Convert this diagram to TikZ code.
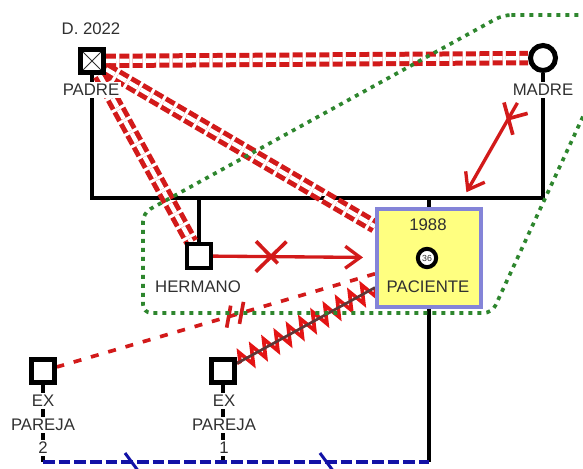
\documentclass[tikz,border=0pt]{standalone}
\usepackage{fontspec}
\setmainfont{Liberation Sans}
\usepackage{xcolor}
\usepackage{tikz}
\usetikzlibrary{arrows.meta,positioning,shapes.misc,decorations.pathmorphing,decorations.markings}

\definecolor{conflicto}{HTML}{D21A1A}
\definecolor{hostilrojo}{HTML}{E41414}
\definecolor{hostilcentro}{HTML}{5E3636}
\definecolor{foco}{HTML}{2E862E}
\definecolor{azulunion}{HTML}{1212A6}
\definecolor{pacfondo}{HTML}{FFFF80}
\definecolor{pacborde}{HTML}{8484D8}
\definecolor{gristxt}{HTML}{303030}

\pgfdeclarelayer{bg}
\pgfsetlayers{bg,main}

\tikzset{
  varon/.style={draw, fill=white, line width=1.4mm, minimum size=7mm, inner sep=0pt},
  mujer/.style={circle, draw, fill=white, line width=1.5mm, minimum size=7.5mm, inner sep=0pt},
  paciente/.style={draw=pacborde, fill=pacfondo, line width=1.2mm, minimum width=31.2mm, minimum height=29.4mm, inner sep=0pt},
  edad/.style={circle, draw, fill=white, line width=1.2mm, minimum size=5.5mm, inner sep=0pt, text=gristxt, font=\fontsize{7.5}{8}\selectfont},
  lbl/.style={fill=white, inner sep=1.5pt, text=gristxt, font=\fontsize{14.3}{16}\selectfont},
  familia/.style={line width=1.2mm},
  lazo/.style={draw=azulunion, line width=1.3mm, dash pattern=on 3.5mm off 1.2mm},
  distante/.style={draw=conflicto, line width=1.5mm, double=white, double distance=1.3mm, dash pattern=on 3mm off 1mm},
  corte/.style={draw=conflicto, line width=1mm, -{Straight Barb[length=4.5mm,width=6.6mm]}},
  cruz/.style={cross out, draw=conflicto, line width=1.1mm, minimum size=6mm, inner sep=0pt, sloped},
  separado/.style={draw=conflicto, line width=1.1mm, dash pattern=on 2.4mm off 3mm},
  hostil/.style={draw=hostilrojo, line width=1.1mm, decorate, decoration={zigzag, segment length=4.2mm, amplitude=2.6mm}},
  hostilc/.style={draw=hostilcentro, line width=0.8mm},
  focoline/.style={draw=foco, line width=1.1mm, dash pattern=on 1.2mm off 1.5mm, rounded corners=2.5mm}
}

\begin{document}
\begin{tikzpicture}[x=0.3mm, y=-0.3mm]
  \useasboundingbox (0,0) rectangle (583,469);

  % padres
  \node[lbl, fill=none] (fecha) at (91,29) {D. 2022};
  \node[varon, path picture={\draw[line width=0.3mm, gristxt]
      (path picture bounding box.north west) -- (path picture bounding box.south east)
      (path picture bounding box.north east) -- (path picture bounding box.south west);}] (padre) at (92,61) {};
  \node[lbl] (lpadre) at (91,90) {PADRE};
  \node[mujer] (madre) at (543,58) {};
  \node[lbl] (lmadre) at (543,90) {MADRE};

  % hijos
  \node[varon, line width=1.2mm] (herm) at (199,256) {};
  \node[lbl] (lherm) at (198,287) {HERMANO};
  \node[paciente] (pac) at (429,258) {};
  \node[lbl, fill=none] (anio) at (428,225) {1988};
  \node[edad] (edad) at (427,258) {36};
  \node[lbl, fill=none] (lpac) at (428,287) {PACIENTE};

  % ex parejas
  \node[varon] (exdos) at (43,371) {};
  \node[lbl] (exdosa) at (43,401) {EX};
  \node[lbl] (exdosb) at (43,425) {PAREJA};
  \node[lbl] (exdosc) at (43,448) {2};
  \node[varon] (exuno) at (223,371) {};
  \node[lbl] (exunoa) at (224,401) {EX};
  \node[lbl] (exunob) at (224,425) {PAREJA};
  \node[lbl] (exunoc) at (224,448) {1};

  \begin{pgfonlayer}{bg}
    \coordinate (sib) at (0,198);
    \coordinate (uni) at (0,462);
    \draw[familia] (padre) -- (padre |- sib) -- (madre |- sib) -- (madre);
    \draw[familia] (herm) -- (herm |- sib);
    \draw[familia] (pac) -- (pac |- sib);
    \draw[familia] (pac) -- (pac |- uni);
    \draw[familia] (exdos) -- (exdos |- uni);
    \draw[familia] (exuno) -- (exuno |- uni);
    \draw[lazo, postaction={decorate, decoration={markings,
        mark=at position 0.228 with {\draw[azulunion, solid, line width=0.9mm] (-1.8mm,2.7mm) -- (2.4mm,-3mm);},
        mark=at position 0.733 with {\draw[azulunion, solid, line width=0.9mm] (-1.8mm,2.7mm) -- (2.4mm,-3mm);}}}]
      (exdos |- uni) -- (pac |- uni);

    % relaciones
    \draw[distante] (padre) -- (madre);
    \draw[distante] (padre) -- (herm);
    \draw[distante] (padre) -- (pac);
    \draw[corte, shorten <=11mm, shorten >=5.1mm] (madre) -- node[cruz, pos=0.35]{} (pac);
    \draw[corte, shorten >=3.6mm] (herm) -- node[cruz, pos=0.36, minimum size=8mm]{} (pac);
    \draw[separado, postaction={decorate, decoration={markings,
        mark=at position 0.44 with {\draw[conflicto, solid, line width=1.1mm] (-3.5mm,-3mm) -- (-0.5mm,3mm) (0.5mm,-3mm) -- (3.5mm,3mm);}}}]
      (pac) -- (exdos);
    \draw[hostil] (pac) -- (exuno);
    \draw[hostilc] (pac) -- (exuno);

    % foco
    \begin{scope}
      \clip (0,0) rectangle (583,469);
      \draw[focoline] (503,15) -- (630,15) -- (492,313) -- (143,313) -- (143,213) -- cycle;
    \end{scope}
  \end{pgfonlayer}
\end{tikzpicture}
\end{document}
